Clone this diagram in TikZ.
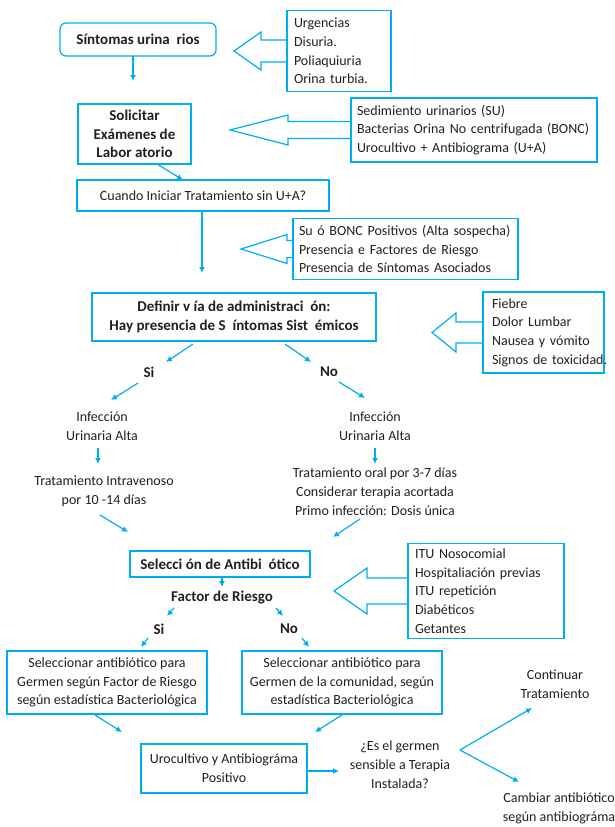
\documentclass[tikz,border=0pt]{standalone}
\usepackage{fontspec}
\setmainfont{Carlito}
\usetikzlibrary{arrows.meta,calc}

\definecolor{celeste}{RGB}{0,174,239}
\definecolor{tinta}{RGB}{35,31,32}
\hyphenpenalty=10000

\tikzset{
  caja/.style={draw=celeste, line width=1.2pt, inner sep=0pt, align=center},
  lista/.style={caja, align=left, inner xsep=7pt},
  texto/.style={align=center, inner sep=0pt},
  negrita/.style={font=\fontsize{15}{18.7}\selectfont\bfseries},
  flecha/.style={draw=celeste, line width=1.2pt, -{Latex[length=6pt,width=6pt]}},
  hueca/.style={draw=celeste, line width=1.2pt, line join=miter},
}

% flecha hueca hacia la izquierda: caja, punta x, base x, medio ancho del cuerpo, medio ancho de la punta
\newcommand{\flechaHueca}[5]{%
  \draw[hueca] let \p1=(#1.west) in
    (\x1,\y1+#4pt) -- (#3pt,\y1+#4pt) -- (#3pt,\y1+#5pt) -- (#2pt,\y1)
    -- (#3pt,\y1-#5pt) -- (#3pt,\y1-#4pt) -- (\x1,\y1-#4pt);}

\begin{document}
\begin{tikzpicture}[x=1pt, y=-1pt, font=\fontsize{14}{18.7}\selectfont, text=tinta]
        \useasboundingbox (0,0) rectangle (614,827);

        % columna principal
        \node[caja, negrita, rounded corners=6pt, minimum width=156pt, minimum height=33pt] (sint) at (138,39.5) {Síntomas urina\ \ rios};
        \node[caja, negrita, minimum width=113pt, minimum height=60pt] (solic) at (134.5,134) {Solicitar\\Exámenes de\\Labor atorio};
        \node[caja, minimum width=252pt, minimum height=31pt] (cuando) at (203,195.5) {Cuando Iniciar Tratamiento sin U+A?};
        \node[caja, negrita, minimum width=284pt, minimum height=48pt] (defin) at (234,317) {Definir v\ ía de administraci\ \ ón:\\Hay presencia de S\ \ íntomas Sist\ \ émicos};

        % listas de la derecha
        \node[lista, text width=90pt, minimum height=81pt] (urg) at (339,51) {Urgencias\\Disuria.\\Poliaquiuria\\Orina turbia.};
        \node[lista, inner xsep=6pt, text width=234pt, minimum height=64pt] (sedim) at (474,130) {Sedimiento urinarios (SU)\\Bacterias Orina No centrifugada (BONC)\\Urocultivo + Antibiograma (U+A)};
        \node[lista, inner xsep=6pt, text width=213pt, minimum height=61pt] (bonc) at (405.5,249) {Su ó BONC Positivos (Alta sospecha)\\Presencia e Factores de Riesgo\\Presencia de Síntomas Asociados};
        \node[lista, inner xsep=9pt, text width=103pt, minimum height=81pt] (fiebre) at (543.5,332.5) {Fiebre\\Dolor Lumbar\\Nausea~y~vómito\\Signos~de~toxicidad.};
        \node[lista, text width=142pt, minimum height=95pt] (itu) at (486,591) {ITU Nosocomial\\Hospitaliación previas\\ITU repetición\\Diabéticos\\Getantes};

        \flechaHueca{urg}{234}{261}{11}{19}
        \flechaHueca{sedim}{230}{288}{8.5}{15}
        \flechaHueca{bonc}{241}{287}{8.5}{14.5}
        \flechaHueca{fiebre}{432}{456}{10.5}{19.5}
        \flechaHueca{itu}{334}{367}{13}{23}

        % ramas
        \node[texto, negrita] (si1) at (149,372) {Si};
        \node[texto, negrita] (no1) at (329,372) {No};
        \node[texto] (infA) at (102,426) {Infección\\Urinaria Alta};
        \node[texto] (infB) at (375,426) {Infección\\Urinaria Alta};
        \node[texto] (trA) at (104,491.5) {Tratamiento Intravenoso\\por 10 -14 días};
        \node[texto] (trB) at (375,491.5) {Tratamiento oral por 3-7 días\\Considerar terapia acortada\\Primo infección: Dosis única};

        \node[caja, negrita, minimum width=180pt, minimum height=26pt] (selec) at (220,564) {Selecci ón de Antibi\ \ ótico};
        \node[texto, negrita] (factor) at (222,598) {Factor de Riesgo};
        \node[texto, negrita] (si2) at (159,629) {Si};
        \node[texto, negrita] (no2) at (289,629) {No};
        \node[caja, minimum width=200pt, minimum height=63pt] (selA) at (107,682.5) {Seleccionar antibiótico para\\Germen según Factor de Riesgo\\según estadística Bacteriológica};
        \node[caja, minimum width=200pt, minimum height=63pt] (selB) at (342,682.5) {Seleccionar antibiótico para\\Germen de la comunidad, según\\estadística Bacteriológica};
        \node[caja, minimum width=166pt, minimum height=49pt] (uro) at (224,768.5) {Urocultivo y Antibiográma\\Positivo};
        \node[texto] (preg) at (400,764.5) {¿Es el germen\\sensible a Terapia\\Instalada?};
        \node[texto] (cont) at (555,684) {Continuar\\Tratamiento};
        \node[texto] (camb) at (559,808.5) {Cambiar antibiótico\\según antibiográma};

        % flechas
        \draw[flecha] ([shift={(-5,16.5)}]sint.center) -- ([shift={(-1.5,-53)}]solic.center);
        \draw[flecha] ([shift={(22.5,30)}]solic.center) -- ([shift={(-20,-15.5)}]cuando.center);
        \draw[flecha] ([shift={(-1,15.5)}]cuando.center) -- ([shift={(-32,-44)}]defin.center);
        \draw[flecha] ([shift={(-41,27)}]defin.center) -- ([shift={(17,-10)}]si1.center);
        \draw[flecha] ([shift={(51,27)}]defin.center) -- ([shift={(-18,-10)}]no1.center);
        \draw[flecha] ([shift={(-11,11)}]si1.center) -- ([shift={(9,-26)}]infA.center);
        \draw[flecha] ([shift={(10,10)}]no1.center) -- ([shift={(-10,-28)}]infB.center);
        \draw[flecha] ([shift={(-4,22)}]infA.center) -- ([shift={(-6,-27.5)}]trA.center);
        \draw[flecha] ([shift={(0,22)}]infB.center) -- ([shift={(0,-27.5)}]trB.center);
        \draw[flecha] ([shift={(-4,23.5)}]trA.center) -- ([shift={(-92,-32)}]selec.center);
        \draw[flecha] ([shift={(-15,27.5)}]trB.center) -- ([shift={(113,-27)}]selec.center);
        \draw[flecha] ([shift={(2,13)}]selec.center) -- ([shift={(0,-11)}]factor.center);
        \draw[flecha] ([shift={(-48,10)}]factor.center) -- ([shift={(8,-13)}]si2.center);
        \draw[flecha] ([shift={(54,10)}]factor.center) -- ([shift={(-6,-13)}]no2.center);
        \draw[flecha] ([shift={(-11,9)}]si2.center) -- ([shift={(34,-35.5)}]selA.center);
        \draw[flecha] ([shift={(13,9)}]no2.center) -- ([shift={(-33,-35.5)}]selB.center);
        \draw[flecha] ([shift={(-12,32.5)}]selA.center) -- ([shift={(-102,-36.5)}]uro.center);
        \draw[flecha] ([shift={(0,32.5)}]selB.center) -- ([shift={(91,-36.5)}]uro.center);
        \draw[flecha] ([shift={(83,2.5)}]uro.center) -- ([shift={(-61,6.5)}]preg.center);
        \draw[flecha] ([shift={(60,-14.5)}]preg.center) -- ([shift={(-23,24)}]cont.center);
        \draw[flecha] ([shift={(60,-14.5)}]preg.center) -- ([shift={(-40,-26.5)}]camb.center);
    \end{tikzpicture}
\end{document}
